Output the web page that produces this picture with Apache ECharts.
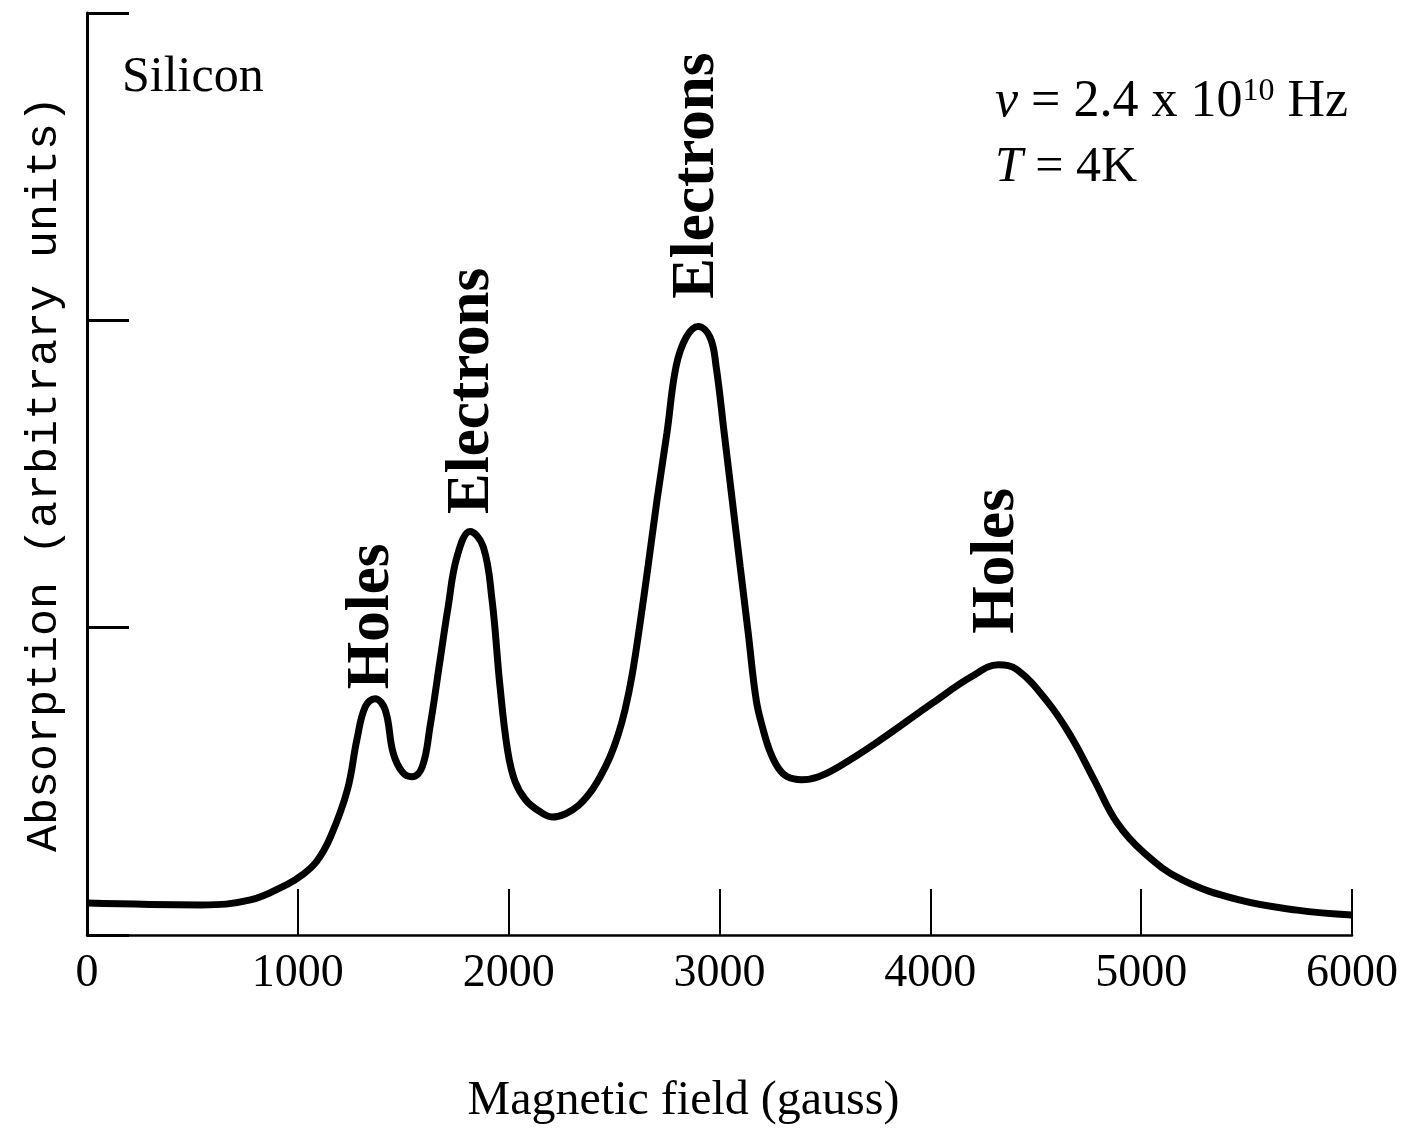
<!DOCTYPE html>
<html>
<head>
<meta charset="utf-8">
<title>Silicon cyclotron resonance</title>
<script src="https://cdn.jsdelivr.net/npm/echarts@6/dist/echarts.min.js"></script>
<style>
html, body { margin: 0; padding: 0; background: #fff; }
#main { width: 1405px; height: 1134px; }
</style>
</head>
<body>
<div id="main"></div>
<script>
// magnetic field (gauss) and absorption (arbitrary units)
var fieldGauss = [0, 540, 775, 950, 1020, 1090, 1155, 1235, 1280, 1320,
    1366, 1414, 1452, 1495, 1542, 1590, 1627, 1675, 1713, 1755,
    1817, 1879, 1921, 1959, 1995, 2030, 2080, 2140, 2206, 2268,
    2329, 2386, 2434, 2481, 2519, 2552, 2585, 2623, 2661, 2704,
    2751, 2794, 2842, 2899, 2955, 2984, 3022, 3060, 3098, 3136,
    3174, 3207, 3240, 3278, 3321, 3390, 3470, 3560, 3743, 4013,
    4194, 4322, 4412, 4559, 4668, 4777, 4886, 5014, 5195, 5465,
    5740, 6000];
var absorption = [0.104, 0.098, 0.114, 0.165, 0.195, 0.24, 0.319, 0.472, 0.635, 0.743,
    0.769, 0.733, 0.593, 0.531, 0.515, 0.547, 0.678, 0.896, 1.068, 1.231,
    1.313, 1.264, 1.091, 0.808, 0.60, 0.50, 0.44, 0.405, 0.384, 0.394,
    0.42, 0.463, 0.515, 0.58, 0.651, 0.733, 0.844, 1.013, 1.199, 1.417,
    1.635, 1.85, 1.945, 1.98, 1.945, 1.85, 1.635, 1.417, 1.199, 0.984,
    0.765, 0.668, 0.596, 0.544, 0.515, 0.505, 0.515, 0.545, 0.625, 0.756,
    0.84, 0.879, 0.863, 0.756, 0.645, 0.505, 0.365, 0.267, 0.179, 0.114,
    0.081, 0.065];

// peak labels (written upward, starting at this field / level)
var peakNames = ['Holes', 'Electrons', 'Electrons', 'Holes'];
var peakNameField = [1352, 1826, 2894, 4317];
var peakNameLevel = [0.80, 1.37, 2.07, 0.98];

var serif = '"Liberation Serif", "Times New Roman", serif';

var myChart = echarts.init(document.getElementById('main'));

var curve = [];
fieldGauss.forEach(function (f, i) {
    curve.push([f, absorption[i]]);
});

var myOption = {
    animation: false,
    backgroundColor: '#fff',
    grid: {
        left: 87,
        right: 53,
        top: 13,
        bottom: 199
    },
    xAxis: {
        type: 'value',
        min: 0,
        max: 6000,
        interval: 1000,
        name: 'Magnetic field (gauss)',
        nameLocation: 'middle',
        nameGap: 142,
        nameTextStyle: {
            fontFamily: serif,
            fontSize: 48,
            color: '#000',
            padding: [0, 72, 0, 0]
        },
        axisLine: { show: true, lineStyle: { color: '#000', width: 2.5 } },
        axisTick: { show: true, inside: true, length: 46, lineStyle: { color: '#000', width: 2 } },
        axisLabel: {
            margin: 16,
            fontFamily: serif,
            fontSize: 46,
            color: '#000',
            formatter: function (v) { return String(v); }
        },
        splitLine: { show: false }
    },
    yAxis: {
        type: 'value',
        min: 0,
        max: 3,
        interval: 1,
        name: 'Absorption (arbitrary units)',
        nameLocation: 'middle',
        nameGap: 20,
        nameTextStyle: {
            fontFamily: '"Liberation Mono", "Courier New", monospace',
            fontSize: 45,
            color: '#000'
        },
        axisLine: { show: true, lineStyle: { color: '#000', width: 3 } },
        axisTick: { show: true, inside: true, length: 42, lineStyle: { color: '#000', width: 3 } },
        axisLabel: { show: false },
        splitLine: { show: false }
    },
    series: [
        {
            name: 'Absorption',
            type: 'line',
            data: curve,
            smooth: 0.4,
            symbol: 'none',
            lineStyle: { color: '#000', width: 7 }
        }
    ]
};

myChart.setOption(myOption);

// text laid on top of the plot
var texts = [];
peakNames.forEach(function (t, i) {
    var p = myChart.convertToPixel({ gridIndex: 0 }, [peakNameField[i], peakNameLevel[i]]);
    texts.push({
        type: 'text',
        x: p[0],
        y: p[1],
        rotation: Math.PI / 2,
        style: {
            text: t,
            font: 'bold 61px ' + serif,
            fill: '#000',
            align: 'left',
            verticalAlign: 'middle'
        }
    });
});

texts.push({
    type: 'text',
    x: 122,
    y: 78,
    style: {
        text: 'Silicon',
        font: '50px ' + serif,
        fill: '#000',
        align: 'left',
        verticalAlign: 'middle'
    }
});

texts.push({
    type: 'text',
    x: 995,
    y: 102,
    style: {
        text: '{i|ν} = 2.4 x 10{s|10} Hz',
        font: '52px ' + serif,
        fill: '#000',
        align: 'left',
        verticalAlign: 'middle',
        rich: {
            i: { fontStyle: 'italic', fontFamily: serif, fontSize: 52 },
            s: { fontFamily: serif, fontSize: 32, verticalAlign: 'top', lineHeight: 30 }
        }
    }
});

texts.push({
    type: 'text',
    x: 995,
    y: 168,
    style: {
        text: '{i|T} = 4K',
        font: '50px ' + serif,
        fill: '#000',
        align: 'left',
        verticalAlign: 'middle',
        rich: {
            i: { fontStyle: 'italic', fontFamily: serif, fontSize: 50 }
        }
    }
});

myChart.setOption({ graphic: texts });
</script>
</body>
</html>
